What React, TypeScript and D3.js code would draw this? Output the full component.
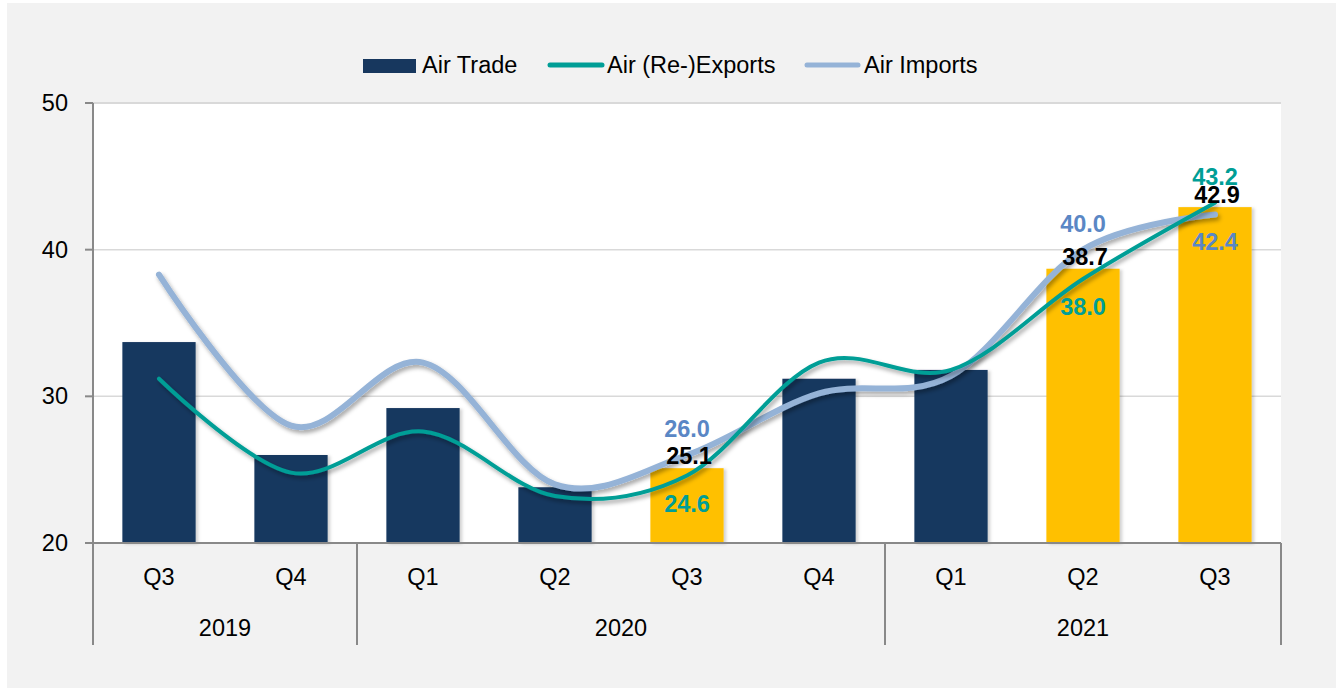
import React from "react";
import * as d3 from "d3";

const quarters = ["Q3", "Q4", "Q1", "Q2", "Q3", "Q4", "Q1", "Q2", "Q3"];
const yearLabels = ["2019", "2020", "2021"];
const yearSpans = [2, 4, 3];
const airTrade = [33.7, 26.0, 29.2, 23.8, 25.1, 31.2, 31.8, 38.7, 42.9];
const airExports = [31.2, 24.8, 27.6, 23.2, 24.6, 32.3, 31.8, 38.0, 43.2];
const airImports = [38.3, 28.0, 32.3, 24.0, 26.0, 30.2, 31.4, 40.0, 42.4];
const highlighted = [false, false, false, false, true, false, false, true, true];
// label placement for each point (null = no label)
const tradeLabelPos = [null, null, null, null, "above", null, null, "above", "above"];
const exportsLabelPos = [null, null, null, null, "below", null, null, "below", "above"];
const importsLabelPos = [null, null, null, null, "above", null, null, "above", "below"];
const yTicks = [20, 30, 40, 50];
const legendItems = ["Air Trade", "Air (Re-)Exports", "Air Imports"];

const W = 1336;
const H = 688;
const FONT = "'Liberation Sans', Arial, sans-serif";
const NAVY = "#17375e";
const GOLD = "#ffc000";
const TEAL = "#009e96";
const LBLUE = "#95b3d7";
const TEAL_TXT = "#009e96";
const BLUE_TXT = "#5a87c5";

export default function App() {
  const idx = quarters.map((_, i) => i);
  const x = d3.scaleBand<number>().domain(idx).range([93, 1281]).paddingInner(0.445).paddingOuter(0.2225);
  const y = d3.scaleLinear().domain([20, 50]).range([543, 103]);
  const cx = (i: number) => (x(i) as number) + x.bandwidth() / 2;
  const step = x.step();
  const x0 = 93;
  const x1 = 1281;

  const line = d3
    .line<number>()
    .x((_, i) => cx(i))
    .y((d) => y(d))
    .curve(d3.curveCardinal.tension(0));

  // year separators
  const seps: number[] = [x0];
  let acc = 0;
  yearSpans.forEach((s) => {
    acc += s;
    seps.push(x0 + step * acc);
  });

  const labelY = (v: number, pos: string, kind: string) => {
    if (kind === "bar") return y(v) - 4;
    return pos === "above" ? y(v) - 18 : y(v) + 36;
  };

  return (
    <svg width={W} height={H} style={{ position: "absolute", left: 0, top: 0 }} fontFamily={FONT}>
      <defs>
        <filter id="lineShadow" x="-5%" y="-20%" width="110%" height="140%">
          <feDropShadow dx="2" dy="3" stdDeviation="2.2" floodColor="#000" floodOpacity="0.35" />
        </filter>
        <filter id="barShadow" x="-10%" y="-10%" width="125%" height="120%">
          <feDropShadow dx="2.5" dy="1" stdDeviation="1.5" floodColor="#000" floodOpacity="0.18" />
        </filter>
      </defs>
      <rect x={0} y={0} width={W} height={H} fill="#ffffff" />
      <rect x={7} y={3} width={W - 7} height={H - 3} fill="#f2f2f2" />
      {/* plot area */}
      <rect x={x0} y={y(50)} width={x1 - x0} height={y(20) - y(50)} fill="#ffffff" />

      {/* gridlines */}
      {yTicks.map((t) => (
        <line key={t} x1={x0} x2={x1} y1={y(t)} y2={y(t)} stroke="#d9d9d9" strokeWidth={t === 50 ? 2 : 1.5} />
      ))}

      {/* bars */}
      <g filter="url(#barShadow)">
        {airTrade.map((v, i) => (
          <rect
            key={i}
            x={x(i)}
            y={y(v)}
            width={x.bandwidth()}
            height={y(20) - y(v)}
            fill={highlighted[i] ? GOLD : NAVY}
          />
        ))}
      </g>

      {/* axes */}
      <line x1={x0} x2={x0} y1={y(50)} y2={645} stroke="#898989" strokeWidth={2} />
      {yTicks.map((t) => (
        <line key={"t" + t} x1={85} x2={x0} y1={y(t)} y2={y(t)} stroke="#898989" strokeWidth={2} />
      ))}
      <line x1={85} x2={x1} y1={y(20)} y2={y(20)} stroke="#898989" strokeWidth={2} />
      {seps.map((s, i) => (
        <line key={"s" + i} x1={s} x2={s} y1={y(20)} y2={645} stroke="#898989" strokeWidth={2} />
      ))}

      {/* y tick labels */}
      {yTicks.map((t) => (
        <text key={"yl" + t} x={68} y={y(t) + 8} textAnchor="end" fontSize={23.5} fill="#000">
          {t}
        </text>
      ))}

      {/* quarter labels */}
      {quarters.map((q, i) => (
        <text key={"q" + i} x={cx(i)} y={585} textAnchor="middle" fontSize={23.5} fill="#000">
          {q}
        </text>
      ))}
      {/* year labels */}
      {yearLabels.map((yl, i) => (
        <text key={yl} x={(seps[i] + seps[i + 1]) / 2} y={636} textAnchor="middle" fontSize={23.5} fill="#000">
          {yl}
        </text>
      ))}

      {/* lines */}
      <path d={line(airImports) || ""} fill="none" stroke={LBLUE} strokeWidth={6} strokeLinecap="round" filter="url(#lineShadow)" />
      <path d={line(airExports) || ""} fill="none" stroke={TEAL} strokeWidth={4} strokeLinecap="round" filter="url(#lineShadow)" />

      {/* data labels */}
      {airTrade.map((v, i) =>
        tradeLabelPos[i] ? (
          <text key={"bl" + i} x={cx(i) + 2} y={labelY(v, tradeLabelPos[i] as string, "bar")} textAnchor="middle" fontSize={23.5} fontWeight="bold" fill="#000">
            {v.toFixed(1)}
          </text>
        ) : null
      )}
      {airExports.map((v, i) =>
        exportsLabelPos[i] ? (
          <text key={"el" + i} x={cx(i)} y={labelY(v, exportsLabelPos[i] as string, "line")} textAnchor="middle" fontSize={23.5} fontWeight="bold" fill={TEAL_TXT}>
            {v.toFixed(1)}
          </text>
        ) : null
      )}
      {airImports.map((v, i) =>
        importsLabelPos[i] ? (
          <text key={"il" + i} x={cx(i)} y={labelY(v, importsLabelPos[i] as string, "line")} textAnchor="middle" fontSize={23.5} fontWeight="bold" fill={BLUE_TXT}>
            {v.toFixed(1)}
          </text>
        ) : null
      )}

      {/* legend */}
      <g>
        <rect x={363} y={59} width={53} height={14} fill={NAVY} />
        <text x={422} y={73} fontSize={23.5} fill="#000">{legendItems[0]}</text>
        <line x1={550} x2={602} y1={65} y2={65} stroke={TEAL} strokeWidth={5} strokeLinecap="round" />
        <text x={607} y={73} fontSize={23.5} fill="#000">{legendItems[1]}</text>
        <line x1={807} x2={858} y1={65} y2={65} stroke={LBLUE} strokeWidth={5} strokeLinecap="round" />
        <text x={864} y={73} fontSize={23.5} fill="#000">{legendItems[2]}</text>
      </g>
    </svg>
  );
}
